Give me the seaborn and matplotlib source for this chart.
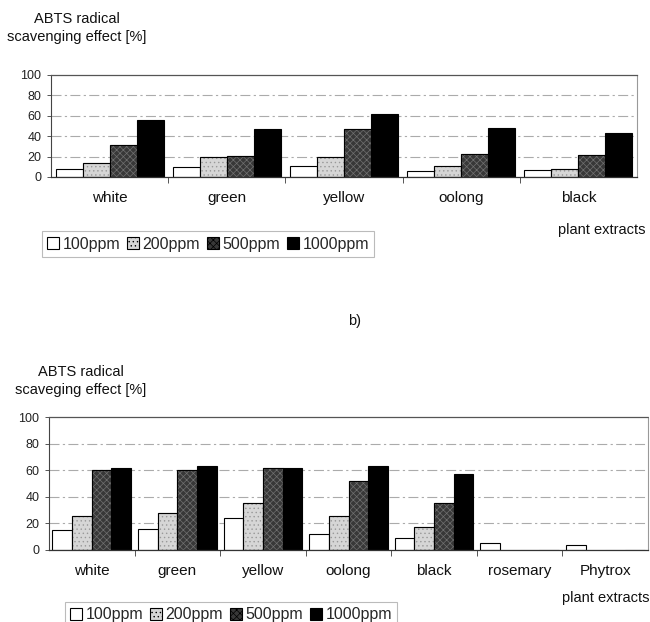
import numpy as np
import pandas as pd
import seaborn as sns
import matplotlib
matplotlib.use("Agg")
import matplotlib.pyplot as plt
from matplotlib.patches import Patch

# ---- data -------------------------------------------------------------
doses = ["100ppm", "200ppm", "500ppm", "1000ppm"]

teas_a = ["white", "green", "yellow", "oolong", "black"]
a_100 = [8, 10, 11, 6, 6.5]
a_200 = [14, 19.5, 19.5, 10.5, 8]
a_500 = [31.5, 20.5, 47, 23, 22]
a_1000 = [56, 47.5, 61.5, 48, 43.5]

extracts_b = ["white", "green", "yellow", "oolong", "black", "rosemary", "Phytrox"]
b_100 = [15, 16, 24, 12, 9, 5.5, 4]
b_200 = [25.5, 28, 35.5, 25.5, 17, 0, 0]
b_500 = [60, 60, 61.5, 52, 35, 0, 0]
b_1000 = [61.5, 63, 61.5, 63, 57.5, 0, 0]

yticks = [0, 20, 40, 60, 80, 100]

# ---- style ------------------------------------------------------------
sns.set_theme(style="white")
plt.rcParams["font.family"] = ["Liberation Sans", "DejaVu Sans"]
plt.rcParams["hatch.linewidth"] = 0.5

face = {"100ppm": "white", "200ppm": "#d6d6d6", "500ppm": "#383838", "1000ppm": "black"}
hatch = {"100ppm": None, "200ppm": "....", "500ppm": "xxxxx", "1000ppm": None}
hatch_col = {"100ppm": "black", "200ppm": "#999999", "500ppm": "#707070", "1000ppm": "black"}


def long_table(cats, series):
    rows = []
    for dose, vals in zip(doses, series):
        for c, v in zip(cats, vals):
            rows.append({"extract": c, "dose": dose, "effect": v})
    return pd.DataFrame(rows)


def draw_panel(ax, cats, series):
    df = long_table(cats, series)
    sns.barplot(data=df, x="extract", y="effect", hue="dose", order=cats,
                hue_order=doses, palette=face, width=0.92, legend=False,
                edgecolor="black", linewidth=0.8, saturation=1, ax=ax,
                errorbar=None)
    for dose, cont in zip(doses, ax.containers):
        for bar in cont:
            bar.set_facecolor(face[dose])
            if hatch[dose]:
                bar.set_hatch(hatch[dose])
                bar.set_edgecolor(hatch_col[dose])
                bar.set_linewidth(0.8)
            # black outline drawn over the hatching
            x, w, h = bar.get_x(), bar.get_width(), bar.get_height()
            if h > 0 and hatch[dose]:
                ax.add_patch(plt.Rectangle((x, 0), w, h, fill=False,
                                           edgecolor="black", linewidth=0.8,
                                           zorder=bar.get_zorder() + 0.1))
    n = len(cats)
    ax.set_xlim(-0.5, n - 0.5)
    ax.set_ylim(0, 100)
    ax.set_yticks(yticks)
    ax.set_yticklabels([str(t) for t in yticks], fontsize=9, color="#222")
    ax.set_xticks(range(n))
    ax.set_xticklabels(cats, fontsize=11, color="#111")
    ax.tick_params(axis="x", length=0, pad=10)
    ax.tick_params(axis="y", length=3, width=0.7, color="#555", pad=4, left=True)
    ax.set_xticks(np.arange(0.5, n - 0.5, 1), minor=True)
    ax.tick_params(axis="x", which="minor", length=4, width=0.7, color="#555",
                   direction="out", bottom=True)
    ax.set_xlabel("")
    ax.set_ylabel("")
    for y in yticks[1:-1]:
        ax.axhline(y, color="#ababab", lw=0.8, ls=(0, (9, 3, 2, 3)), zorder=0)
    ax.spines["left"].set_linestyle((0, (2, 1)))
    ax.spines["left"].set_color("#444")
    ax.spines["left"].set_linewidth(0.8)
    ax.spines["bottom"].set_color("#333")
    ax.spines["bottom"].set_linewidth(0.9)
    ax.spines["top"].set_linestyle((0, (1, 1)))
    ax.spines["top"].set_color("#555")
    ax.spines["top"].set_linewidth(0.9)
    ax.spines["right"].set_linestyle((0, (1, 1)))
    ax.spines["right"].set_color("#999")
    ax.spines["right"].set_linewidth(0.8)
    ax.set_facecolor("white")


def legend_handles():
    hs = []
    for d in doses:
        hs.append(Patch(facecolor=face[d], edgecolor="black", linewidth=0.8,
                        hatch=hatch[d], label=d))
    return hs


W, H = 650, 622
fig = plt.figure(figsize=(W / 100, H / 100), dpi=100)
fig.patch.set_facecolor("white")

# panel a
ax1 = fig.add_axes([51 / W, 1 - 177 / H, (637 - 51) / W, (177 - 75) / H])
draw_panel(ax1, teas_a, [a_100, a_200, a_500, a_1000])
fig.text(77 / W, 1 - 28 / H, "ABTS radical\nscavenging effect [%]", ha="center",
         va="center", fontsize=10.5, linespacing=1.45, color="#111")
fig.text(646 / W, 1 - 230 / H, "plant extracts", ha="right", va="center",
         fontsize=10.5, color="#111")
leg1 = fig.legend(handles=legend_handles(), loc="center", ncol=4,
                  bbox_to_anchor=(208 / W, 1 - 244 / H), fontsize=11.5,
                  handlelength=0.75, handleheight=0.75, handletextpad=0.2,
                  columnspacing=0.45, borderpad=0.35, frameon=True,
                  fancybox=False, edgecolor="#aaa")
leg1.get_frame().set_linewidth(0.8)

# label between panels
fig.text(355 / W, 1 - 321 / H, "b)", ha="center", va="center", fontsize=10.5,
         color="#111")

# panel b
ax2 = fig.add_axes([49 / W, 1 - 550 / H, (648 - 49) / W, (550 - 417) / H])
draw_panel(ax2, extracts_b, [b_100, b_200, b_500, b_1000])
fig.text(81 / W, 1 - 381 / H, "ABTS radical\nscaveging effect [%]", ha="center",
         va="center", fontsize=10.5, linespacing=1.45, color="#111")
fig.text(650 / W, 1 - 598 / H, "plant extracts", ha="right", va="center",
         fontsize=10.5, color="#111")
leg2 = fig.legend(handles=legend_handles(), loc="center", ncol=4,
                  bbox_to_anchor=(231 / W, 1 - 615 / H), fontsize=11.5,
                  handlelength=0.75, handleheight=0.75, handletextpad=0.2,
                  columnspacing=0.45, borderpad=0.35, frameon=True,
                  fancybox=False, edgecolor="#aaa")
leg2.get_frame().set_linewidth(0.8)

fig.savefig("out.png", dpi=100, facecolor="white")
